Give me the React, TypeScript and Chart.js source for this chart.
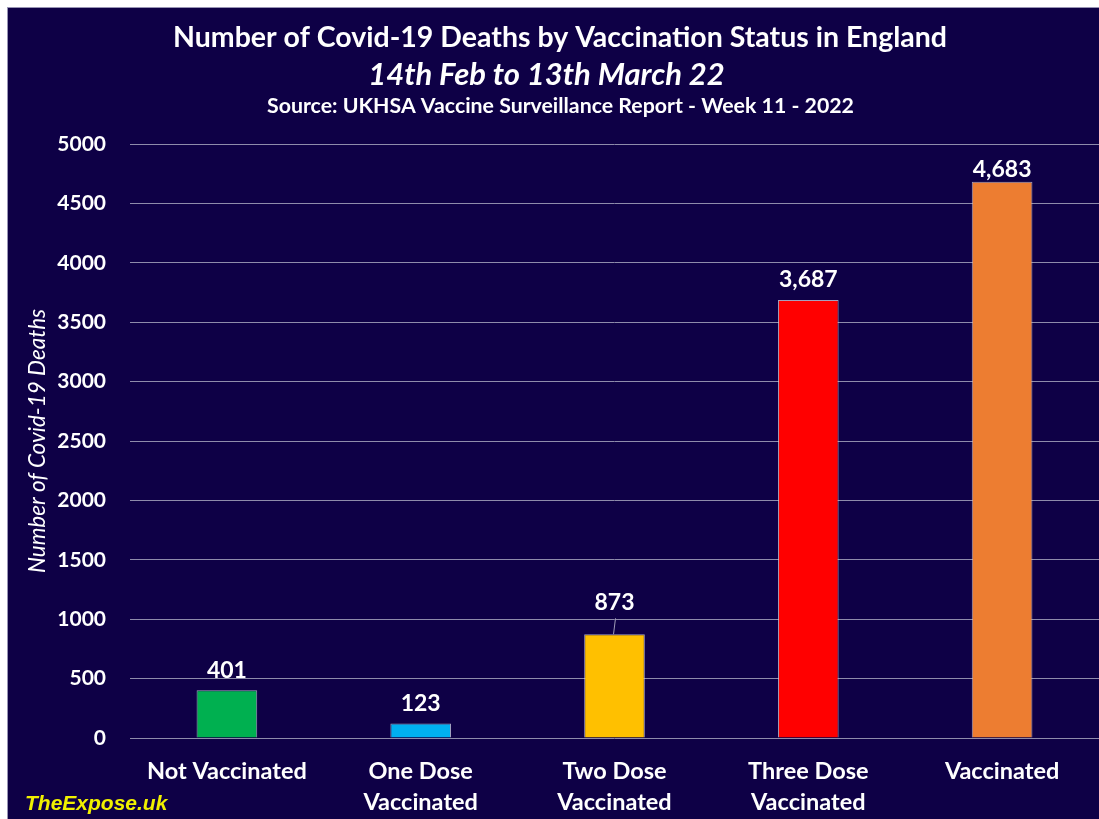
import React, { useEffect, useRef } from "react";
import { Chart, registerables } from "chart.js";

Chart.register(...registerables);

const categories: string[][] = [
  ["Not Vaccinated"],
  ["One Dose", "Vaccinated"],
  ["Two Dose", "Vaccinated"],
  ["Three Dose", "Vaccinated"],
  ["Vaccinated"],
];
const deaths: number[] = [401, 123, 873, 3687, 4683];
const barColors: string[] = ["#00b050", "#00b0f0", "#ffc000", "#ff0000", "#ed7d31"];
const yMin = 0;
const yMax = 5000;
const yStep = 500;
const titleText = "Number of Covid-19 Deaths by Vaccination Status in England";
const subtitleText = "14th Feb to 13th March 22";
const sourceText = "Source: UKHSA Vaccine Surveillance Report - Week 11 - 2022";
const yAxisTitle = "Number of Covid-19 Deaths";
const watermark = "TheExpose.uk";

const BG = "#0e0046";
const FONT = "Lato, 'Noto Sans', sans-serif";

const headerPlugin = {
  id: "header",
  afterDraw(chart: any) {
    const ctx = chart.ctx;
    const cx = chart.width / 2;
    ctx.save();
    ctx.fillStyle = "#ffffff";
    ctx.textAlign = "center";
    ctx.textBaseline = "middle";
    ctx.font = `bold 28.5px ${FONT}`;
    ctx.fillText(titleText, cx + 6.5, 30);
    ctx.font = `italic bold 31px ${FONT}`;
    ctx.fillText(subtitleText, cx - 7, 67);
    ctx.font = `bold 21.3px ${FONT}`;
    ctx.fillText(sourceText, cx + 7, 98);
    ctx.textAlign = "left";
    ctx.fillStyle = "#f0f000";
    ctx.font = `italic bold 21px 'Liberation Sans', Arial, sans-serif`;
    ctx.fillText(watermark, 17, 796);
    ctx.restore();
  },
};

const labelPlugin = {
  id: "barLabels",
  afterDatasetsDraw(chart: any) {
    const ctx = chart.ctx;
    const meta = chart.getDatasetMeta(0);
    const area = chart.chartArea;
    const yScale = chart.scales.y;
    ctx.save();
    ctx.fillStyle = "#ffffff";
    ctx.textAlign = "center";
    ctx.textBaseline = "middle";
    ctx.font = `bold 23px ${FONT}`;
    meta.data.forEach((bar: any, i: number) => {
      const v = chart.data.datasets[0].data[i] as number;
      const text = v.toLocaleString("en-US");
      let y = bar.y - 20;
      // a label that would sit right on a gridline is lifted with a leader line
      const nearestGrid = yScale.getPixelForValue(Math.round(v / yStep) * yStep);
      if (Math.abs(y - nearestGrid) < 8 && nearestGrid < bar.y) {
        y = bar.y - 32;
        ctx.strokeStyle = "#a09cb8";
        ctx.lineWidth = 1;
        ctx.beginPath();
        ctx.moveTo(bar.x + 1, y + 16);
        ctx.lineTo(bar.x - 1, bar.y);
        ctx.stroke();
      }
      y = Math.max(y, area.top + 26);
      ctx.fillText(text, bar.x, y);
    });
    ctx.restore();
  },
};

export default function App() {
  const ref = useRef<HTMLCanvasElement | null>(null);
  useEffect(() => {
    if (!ref.current) return;
    const chart = new Chart(ref.current, {
      type: "bar",
      data: {
        labels: categories,
        datasets: [
          {
            data: deaths,
            backgroundColor: barColors,
            borderColor: "rgba(215,215,230,0.75)",
            borderWidth: 1,
            barPercentage: 0.313,
            categoryPercentage: 1,
          },
        ],
      },
      options: {
        animation: false,
        responsive: true,
        maintainAspectRatio: false,
        layout: { padding: { top: 136, left: 0, right: -4, bottom: 0 } },
        plugins: {
          legend: { display: false },
          tooltip: { enabled: false },
          title: { display: false },
        },
        scales: {
          x: {
            grid: { display: false, drawTicks: false },
            border: { display: false },
            ticks: {
              color: "#ffffff",
              padding: 18,
              maxRotation: 0,
              autoSkip: false,
              font: { family: FONT, size: 23.5, weight: "bold", lineHeight: 1.32 },
            },
            afterFit: (scale: any) => {
              scale.height = 81;
            },
          },
          y: {
            min: yMin,
            max: yMax,
            grid: { color: "#8e8bab", lineWidth: 1, drawTicks: false },
            border: { display: false },
            ticks: {
              stepSize: yStep,
              color: "#ffffff",
              padding: 24,
              font: { family: FONT, size: 21, weight: "bold" },
              callback: (v: any) => String(v),
            },
            title: {
              display: true,
              text: yAxisTitle,
              color: "#ffffff",
              padding: { top: 16, bottom: 0 },
              font: { family: FONT, size: 22.5, style: "italic", lineHeight: 1.2 },
            },
            afterFit: (scale: any) => {
              scale.width = 122;
            },
          },
        },
      },
      plugins: [headerPlugin, labelPlugin],
    });
    return () => chart.destroy();
  }, []);

  return (
    <div
      style={{
        position: "absolute",
        left: 7,
        top: 7,
        right: 0,
        bottom: 0,
        background: BG,
        borderTop: "1px solid #9894b4",
        borderLeft: "1px solid #9894b4",
        overflow: "hidden",
      }}
    >
      <div style={{ position: "relative", width: "100%", height: "100%" }}>
        <canvas ref={ref} />
      </div>
    </div>
  );
}
